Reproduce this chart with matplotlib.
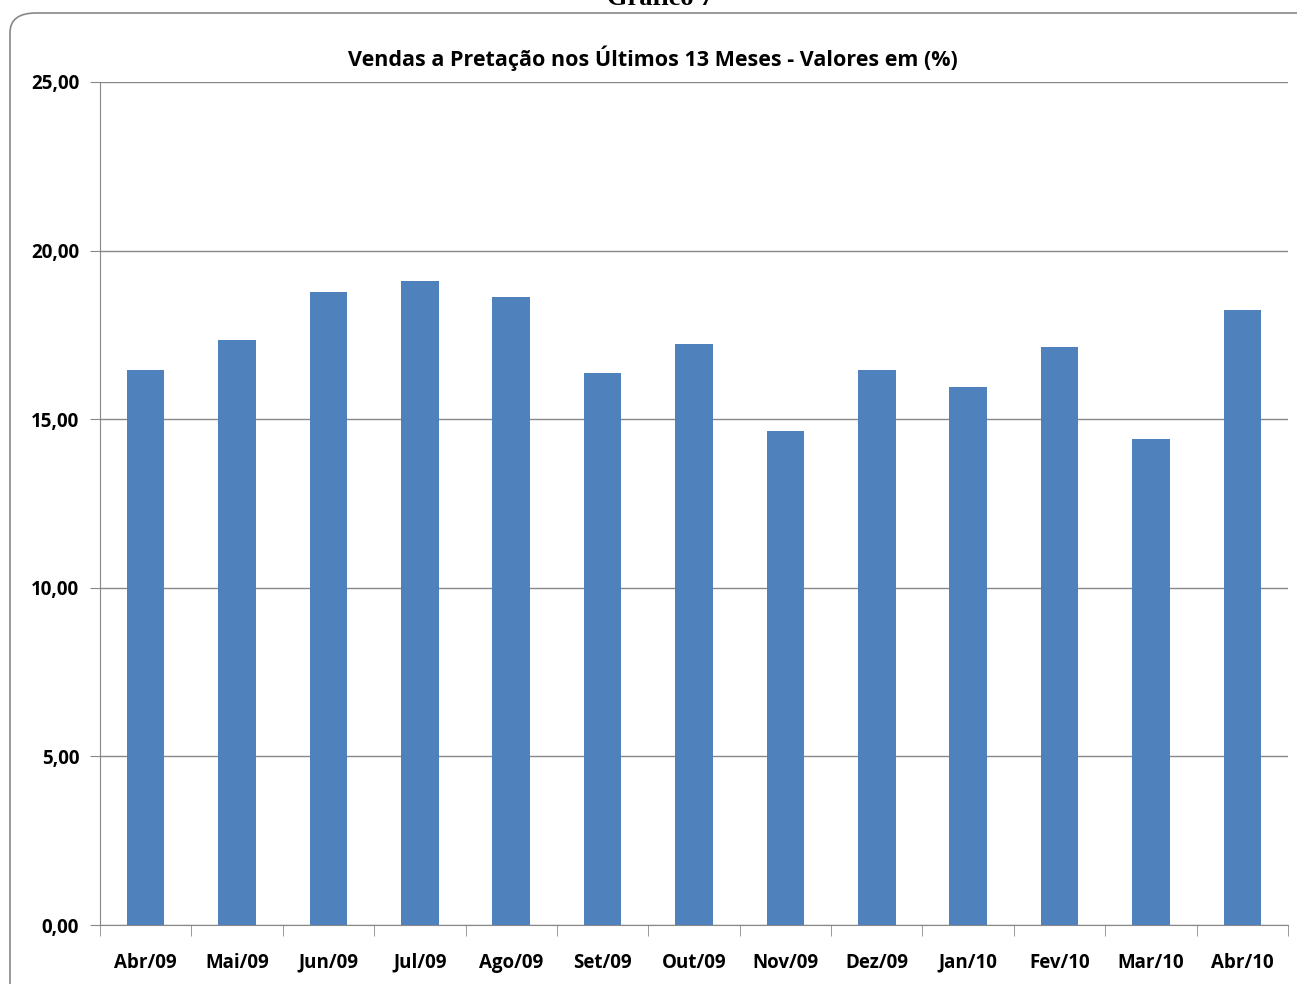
import numpy as np
import matplotlib.pyplot as plt
from matplotlib.patches import FancyBboxPatch

# Dados
meses = ['Abr/09', 'Mai/09', 'Jun/09', 'Jul/09', 'Ago/09', 'Set/09', 'Out/09',
         'Nov/09', 'Dez/09', 'Jan/10', 'Fev/10', 'Mar/10', 'Abr/10']
valores = [16.46, 17.35, 18.77, 19.10, 18.62, 16.37, 17.23,
           14.65, 16.46, 15.95, 17.14, 14.41, 18.24]
yticks = [0, 5, 10, 15, 20, 25]

plt.rcParams['font.family'] = ['Open Sans', 'DejaVu Sans']

fig = plt.figure(figsize=(12.97, 9.84), dpi=100)

# moldura arredondada do gráfico
box = FancyBboxPatch((10 / 1297, -0.05), 1.1, (984 - 13) / 984 + 0.05,
                     boxstyle='round,pad=0,rounding_size=0.02',
                     transform=fig.transFigure, fill=False,
                     edgecolor='#888888', linewidth=1.2)
fig.patches.append(box)

# título do documento, cortado no topo como no original
fig.text(660 / 1297, 1 - 5 / 984, 'Gráfico 7', ha='center', va='baseline',
         fontsize=19, fontweight='bold', family=['Liberation Serif', 'DejaVu Serif'])

ax = fig.add_axes([100 / 1297, 59 / 984, 1188 / 1297, 843 / 984])
x = np.arange(len(meses))
ax.bar(x, valores, width=0.41, color='#4F81BD', zorder=3)

ax.set_xlim(-0.5, len(meses) - 0.5)
ax.set_ylim(0, 25)
ax.set_yticks(yticks)
ax.set_yticklabels([f'{v:.2f}'.replace('.', ',') for v in yticks],
                   fontsize=13.5, fontweight='bold')
ax.set_xticks(x)
ax.set_xticklabels(meses, fontsize=13.5, fontweight='bold')
ax.set_xticks(np.arange(len(meses) + 1) - 0.5, minor=True)
ax.tick_params(axis='x', which='major', length=0, pad=20)
ax.tick_params(axis='x', which='minor', length=8, color='#888888', direction='out')
ax.tick_params(axis='y', length=7, color='#888888', pad=8)

ax.grid(axis='y', color='#888888', linewidth=1, zorder=0)
for s in ['top', 'right']:
    ax.spines[s].set_visible(False)
for s in ['left', 'bottom']:
    ax.spines[s].set_color('#888888')

fig.text(653 / 1297, 1 - 58 / 984,
         'Vendas a Pretação nos Últimos 13 Meses - Valores em (%)',
         ha='center', va='center', fontsize=15.5, fontweight='bold')

fig.savefig('out.png', dpi=100)
